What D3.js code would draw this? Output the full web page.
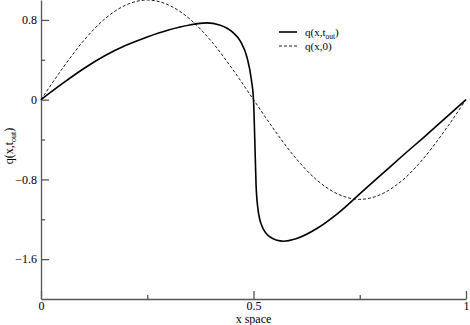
<!DOCTYPE html>
<html lang="en">
  <head>
    <meta charset="utf-8" />
    <title>q(x,t) profile</title>
    <script src="https://cdn.jsdelivr.net/npm/d3@7"></script>
    <style>
      body { margin: 0; background: #fff; }
      svg text { font-family: "Liberation Serif", "Times New Roman", Times, serif; }
    </style>
  </head>
  <body>
    <div id="root"></div>

    <script type="text/javascript">
      /************************************
       * data
       ************************************/

      // q(x, t_out) : solid line
      const xOut = [0, 0.05, 0.1, 0.15, 0.2, 0.25, 0.3, 0.35, 0.39, 0.42, 0.45,
        0.47, 0.485, 0.495, 0.5, 0.503, 0.506, 0.51, 0.52, 0.54, 0.57, 0.6,
        0.65, 0.7, 0.75, 0.8, 0.85, 0.9, 0.95, 1];
      const qOut = [0, 0.16, 0.31, 0.44, 0.545, 0.63, 0.7, 0.75, 0.77, 0.75, 0.68,
        0.58, 0.42, 0.2, 0.0, -0.4, -0.85, -1.08, -1.27, -1.38, -1.42, -1.395,
        -1.29, -1.135, -0.945, -0.755, -0.565, -0.38, -0.19, 0];

      // q(x, 0) : dashed line
      const xInit = [0, 0.05, 0.1, 0.15, 0.2, 0.25, 0.3, 0.35, 0.4, 0.45, 0.5,
        0.55, 0.6, 0.65, 0.7, 0.75, 0.8, 0.85, 0.9, 0.95, 1];
      const qInit = [0, 0.31, 0.59, 0.81, 0.95, 1.0, 0.95, 0.81, 0.59, 0.31, 0,
        -0.31, -0.59, -0.81, -0.95, -1.0, -0.95, -0.81, -0.59, -0.31, 0];

      const xTicks = [0, 0.5, 1];
      const xMinorTicks = [0.25, 0.75];
      const yTicks = [0.8, 0, -0.8, -1.6];
      const yMinorTicks = [0.4, -0.4, -1.2];

      /**********************************
       * chart
       *************************************/

      const width = 470;
      const height = 325;
      const marginLeft = 41;
      const marginRight = 4;
      const marginTop = 0;
      const marginBottom = 26;
      const serif = "'Liberation Serif', 'Times New Roman', Times, serif";

      const xScale = d3
        .scaleLinear()
        .domain([0, 1])
        .range([marginLeft, width - marginRight]);

      const yScale = d3
        .scaleLinear()
        .domain([-2, 1])
        .range([height - marginBottom, marginTop]);

      const svg = d3
        .select("#root")
        .append("svg")
        .attr("width", width)
        .attr("height", height)
        .attr("font-family", serif);

      const axisColor = "#555";

      // minor ticks first, so major axes draw over
      svg
        .append("g")
        .attr("transform", `translate(${marginLeft},0)`)
        .call(d3.axisLeft(yScale).tickValues(yMinorTicks).tickSize(-4).tickFormat(""))
        .call((g) => g.select(".domain").remove());

      svg
        .append("g")
        .attr("transform", `translate(0,${height - marginBottom})`)
        .call(d3.axisBottom(xScale).tickValues(xMinorTicks).tickSize(-4).tickFormat(""))
        .call((g) => g.select(".domain").remove());

      // y axis
      svg
        .append("g")
        .attr("transform", `translate(${marginLeft},0)`)
        .call(
          d3
            .axisLeft(yScale)
            .tickValues(yTicks)
            .tickSizeInner(-8)
            .tickSizeOuter(0)
            .tickPadding(4)
            .tickFormat(d3.format("~g"))
        );

      // x axis
      svg
        .append("g")
        .attr("transform", `translate(0,${height - marginBottom})`)
        .call(
          d3
            .axisBottom(xScale)
            .tickValues(xTicks)
            .tickSizeInner(-8)
            .tickSizeOuter(0)
            .tickPadding(2)
            .tickFormat(d3.format("~g"))
        );

      svg.selectAll(".domain, .tick line").attr("stroke", axisColor).attr("stroke-width", 1.3);
      svg.selectAll(".tick text").attr("font-size", 12).attr("fill", "#000")
        .attr("font-family", serif);

      // lines
      const lineGen = d3
        .line()
        .x((d) => xScale(d[0]))
        .y((d) => yScale(d[1]))
        .curve(d3.curveMonotoneX);

      svg
        .append("path")
        .datum(xInit.map((x, i) => [x, qInit[i]]))
        .attr("d", lineGen)
        .attr("fill", "none")
        .attr("stroke", "#000")
        .attr("stroke-width", 0.9)
        .attr("stroke-dasharray", "3,2");

      svg
        .append("path")
        .datum(xOut.map((x, i) => [x, qOut[i]]))
        .attr("d", lineGen)
        .attr("fill", "none")
        .attr("stroke", "#000")
        .attr("stroke-width", 1.6);

      // axis titles
      svg
        .append("text")
        .attr("x", xScale(0.5))
        .attr("y", 322.5)
        .attr("text-anchor", "middle")
        .attr("font-size", 12)
        .text("x space");

      const yTitle = svg
        .append("text")
        .attr("transform", "translate(13,146) rotate(-90)")
        .attr("text-anchor", "middle")
        .attr("font-size", 12);
      yTitle.append("tspan").text("q(x,t");
      yTitle.append("tspan").attr("font-size", 8).attr("dy", 3).text("out");
      yTitle.append("tspan").attr("dy", -3).text(")");

      // legend
      const legend = svg.append("g");
      legend
        .append("line")
        .attr("x1", 279).attr("x2", 297)
        .attr("y1", 32).attr("y2", 32)
        .attr("stroke", "#000")
        .attr("stroke-width", 1.6);
      const leg1 = legend
        .append("text")
        .attr("x", 305)
        .attr("y", 36)
        .attr("font-size", 11);
      leg1.append("tspan").text("q(x,t");
      leg1.append("tspan").attr("font-size", 7.5).attr("dy", 3).text("out");
      leg1.append("tspan").attr("dy", -3).text(")");

      legend
        .append("line")
        .attr("x1", 279).attr("x2", 297)
        .attr("y1", 46).attr("y2", 46)
        .attr("stroke", "#000")
        .attr("stroke-width", 0.9)
        .attr("stroke-dasharray", "3,2");
      legend
        .append("text")
        .attr("x", 305)
        .attr("y", 50)
        .attr("font-size", 11)
        .text("q(x,0)");
    </script>
  </body>
</html>
